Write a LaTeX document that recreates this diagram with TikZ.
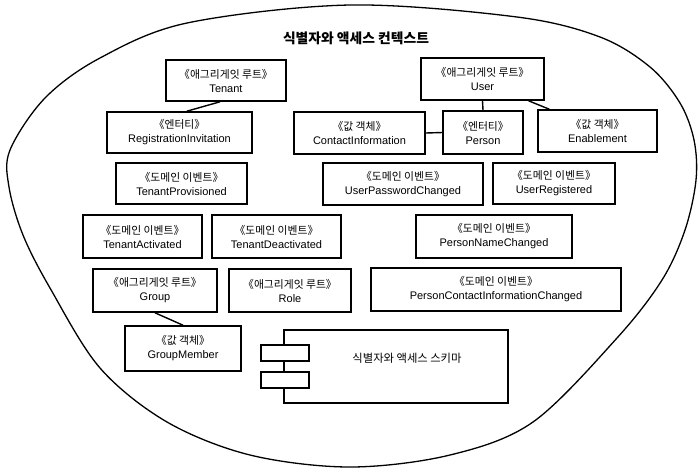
\documentclass[tikz,border=0pt]{standalone}
\usepackage{fontspec}
\setmainfont{Liberation Sans}
\newfontfamily\kr{Noto Sans CJK KR}
\usetikzlibrary{calc}
\newcommand{\stt}[2]{{\kr\fontsize{10.8}{14}\selectfont 《#1》}\\#2}
\tikzset{
  box/.style={draw, line width=1.6pt, inner sep=0pt, align=center,
    font=\fontsize{11}{14}\selectfont},
  conn/.style={line width=1.4pt},
  boundary/.style={line width=1.3pt},
}
\newcommand{\boxat}[6]{% name, x1, y1, x2, y2, text
  \node[box, minimum width={(#4-#2)*1pt}, minimum height={(#5-#3)*1pt}]
    (#1) at ({(#2+#4)/2},{(#3+#5)/2}) {#6};}
\begin{document}
\begin{tikzpicture}[x=1pt,y=-1pt]
\useasboundingbox (0,0) rectangle (700,475);
% boundary
\draw[boundary] plot[smooth cycle, tension=0.55] coordinates {
 (350,5) (517,17) (600,37) (650,67) (680,103) (694,140) (696,180)
 (685,230) (662,280) (617,338) (533,422) (450,455) (350,467)
 (250,455) (167,422) (100,368) (50,288) (23,235) (9,187) (10,150)
 (45,98) (100,58) (187,23)};
\node[font={\kr\bfseries\fontsize{13.8}{15}\selectfont}] (title) at (356,38) {식별자와 액세스 컨텍스트};
\boxat{tenant}{166}{60}{286}{101}{\stt{애그리게잇 루트}{Tenant}}
\boxat{user}{421}{58}{544}{100}{\stt{애그리게잇 루트}{User}}
\boxat{reginv}{107}{112}{252}{153}{\stt{엔터티}{RegistrationInvitation}}
\boxat{contact}{294}{112}{425}{154}{\stt{값 객체}{ContactInformation}}
\boxat{person}{443}{111}{523}{154}{\stt{엔터티}{Person}}
\boxat{enable}{538}{110}{657}{152}{\stt{값 객체}{Enablement}}
\boxat{tprov}{116}{163}{247}{204}{\stt{도메인 이벤트}{TenantProvisioned}}
\boxat{upwd}{323}{163}{483}{205}{\stt{도메인 이벤트}{UserPasswordChanged}}
\boxat{ureg}{493}{163}{615}{204}{\stt{도메인 이벤트}{UserRegistered}}
\boxat{tact}{83}{215}{202}{258}{\stt{도메인 이벤트}{TenantActivated}}
\boxat{tdeact}{212}{215}{341}{258}{\stt{도메인 이벤트}{TenantDeactivated}}
\boxat{pname}{416}{215}{572}{258}{\stt{도메인 이벤트}{PersonNameChanged}}
\boxat{group}{93}{269}{217}{312}{\stt{애그리게잇 루트}{Group}}
\boxat{role}{229}{269}{351}{312}{\stt{애그리게잇 루트}{Role}}
\boxat{pcic}{371}{268}{621}{311}{\stt{도메인 이벤트}{PersonContactInformationChanged}}
\boxat{gmember}{125}{326}{241}{371}{\stt{값 객체}{GroupMember}}
% component
\boxat{comp}{284}{330}{508}{403}{}
\node[box, fill=white, minimum width=48pt, minimum height=16pt] (port1) at (285,353) {};
\node[box, fill=white, minimum width=48pt, minimum height=16pt] (port2) at (285,380) {};
\node[font={\kr\fontsize{11.3}{14}\selectfont}] (complabel) at (407,358) {식별자와 액세스 스키마};
% connectors
\draw[conn] ($(tenant.south west)!0.45!(tenant.south east)$) -- ($(reginv.north west)!0.55!(reginv.north east)$);
\draw[conn] (user.south) -- (person.north);
\draw[conn] ($(user.south west)!0.87!(user.south east)$) -- ($(enable.north west)!0.1!(enable.north east)$);
\draw[conn] (contact.east) -- (person.west);
\draw[conn] (group.south) -- (gmember.north);
\end{tikzpicture}
\end{document}
